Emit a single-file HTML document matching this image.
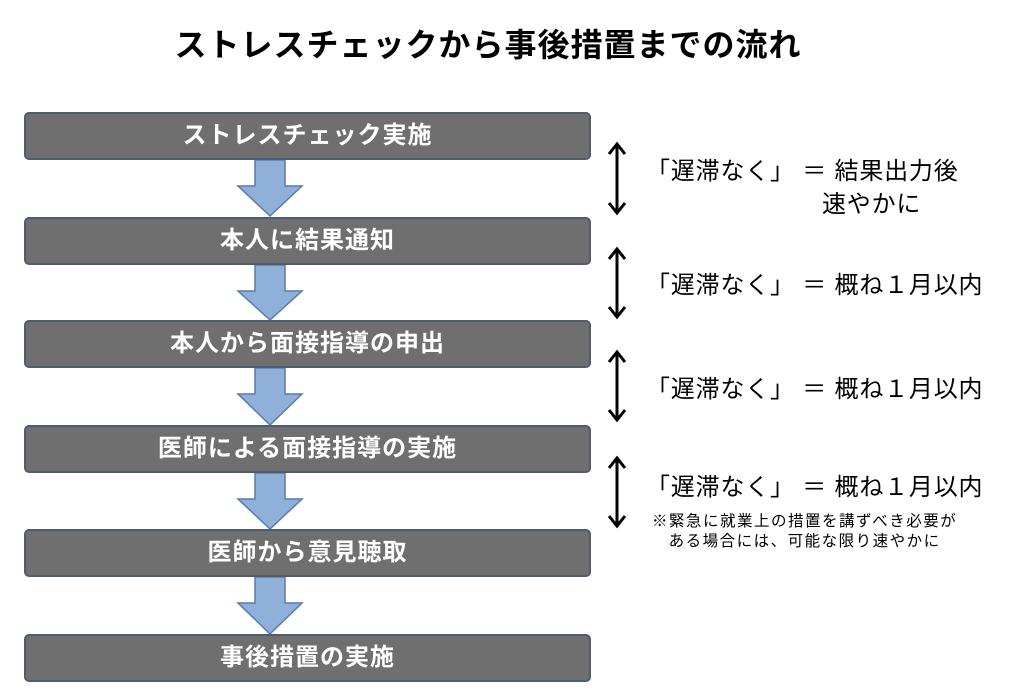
<!DOCTYPE html>
<html><head><meta charset="utf-8"><style>
body{margin:0;width:1024px;height:697px;background:#fff;position:relative;overflow:hidden;font-family:"Liberation Sans","Noto Sans CJK JP",sans-serif}
.t{position:absolute;left:0;width:976px;top:20px;text-align:center;font-size:32px;font-weight:bold;color:#000;letter-spacing:1px}
.b{position:absolute;left:24px;width:563px;height:44px;background:#6f6f6f;border:2px solid #4d5c70;border-radius:5px;color:#fff;font-size:24px;font-weight:bold;text-align:center;line-height:44px;letter-spacing:1px}
.r{position:absolute;left:646px;font-size:24px;color:#000;white-space:nowrap;letter-spacing:0.8px}
.n{position:absolute;left:652px;font-size:15.5px;color:#000;white-space:nowrap;line-height:20px;text-align:center;letter-spacing:1.5px}
</style></head><body>
<div class="t">ストレスチェックから事後措置までの流れ</div>
<svg width="1024" height="697" style="position:absolute;left:0;top:0">
<g fill="#8fb0d9" stroke="#5a7aa8" stroke-width="1.5">
<polygon points="255,160 285,160 285,186 302,186 270,216 238,186 255,186"/>
<polygon points="255,265 285,265 285,291 302,291 270,320 238,291 255,291"/>
<polygon points="255,368 285,368 285,394 302,394 270,425 238,394 255,394"/>
<polygon points="255,473 285,473 285,499 302,499 270,529 238,499 255,499"/>
<polygon points="255,577 285,577 285,603 302,603 270,634 238,603 255,603"/>
</g>
<g stroke="#000" stroke-width="3" fill="none">
<line x1="617" y1="146" x2="617" y2="211"/><polyline points="609,154 617,144 625,154"/><polyline points="609,203 617,213 625,203"/>
<line x1="617" y1="251" x2="617" y2="315"/><polyline points="609,259 617,249 625,259"/><polyline points="609,307 617,317 625,307"/>
<line x1="617" y1="354" x2="617" y2="418"/><polyline points="609,362 617,352 625,362"/><polyline points="609,410 617,420 625,410"/>
<line x1="617" y1="460" x2="617" y2="524"/><polyline points="609,468 617,458 625,468"/><polyline points="609,516 617,526 625,516"/>
</g>
</svg>
<div class="b" style="top:112px">ストレスチェック実施</div>
<div class="b" style="top:217px">本人に結果通知</div>
<div class="b" style="top:320px">本人から面接指導の申出</div>
<div class="b" style="top:425px">医師による面接指導の実施</div>
<div class="b" style="top:529px">医師から意見聴取</div>
<div class="b" style="top:634px">事後措置の実施</div>
<div class="r" style="top:151px">「遅滞なく」 ＝ 結果出力後</div>
<div class="r" style="top:184px;left:822px">速やかに</div>
<div class="r" style="top:265px">「遅滞なく」 ＝ 概ね１月以内</div>
<div class="r" style="top:369px">「遅滞なく」 ＝ 概ね１月以内</div>
<div class="r" style="top:467px">「遅滞なく」 ＝ 概ね１月以内</div>
<div class="n" style="top:512px">※緊急に就業上の措置を講ずべき必要が<br>ある場合には、可能な限り速やかに</div>
</body></html>
